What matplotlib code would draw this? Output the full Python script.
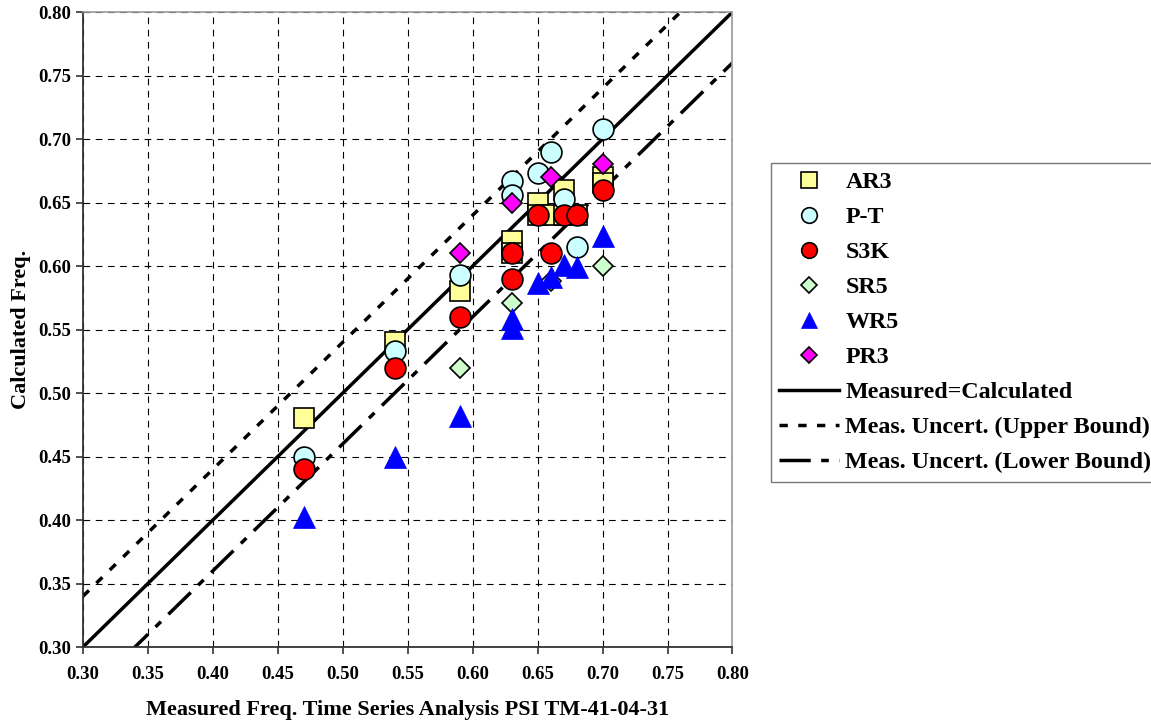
import numpy as np
import matplotlib
matplotlib.use("Agg")
import matplotlib.pyplot as plt

# series values
ar3_x = [0.47, 0.54, 0.59, 0.63, 0.63, 0.65, 0.65, 0.66, 0.67, 0.67, 0.68, 0.70, 0.70]
ar3_y = [0.48, 0.54, 0.58, 0.62, 0.61, 0.65, 0.64, 0.64, 0.66, 0.64, 0.64, 0.67, 0.665]

pt_x = [0.47, 0.54, 0.59, 0.63, 0.63, 0.65, 0.66, 0.67, 0.68, 0.70]
pt_y = [0.45, 0.533, 0.593, 0.667, 0.656, 0.673, 0.69, 0.653, 0.615, 0.708]

s3k_x = [0.47, 0.54, 0.59, 0.63, 0.63, 0.65, 0.66, 0.67, 0.68, 0.70]
s3k_y = [0.44, 0.52, 0.56, 0.61, 0.59, 0.64, 0.61, 0.64, 0.64, 0.66]

sr5_x = [0.59, 0.63, 0.66, 0.70]
sr5_y = [0.52, 0.571, 0.588, 0.60]

wr5_x = [0.47, 0.54, 0.59, 0.63, 0.63, 0.65, 0.66, 0.67, 0.68, 0.70]
wr5_y = [0.402, 0.45, 0.482, 0.558, 0.551, 0.587, 0.591, 0.601, 0.599, 0.624]

pr3_x = [0.59, 0.63, 0.66, 0.70]
pr3_y = [0.61, 0.65, 0.67, 0.68]

line_x = [0.30, 0.80]
uncert = 0.04

ticks = [0.30, 0.35, 0.40, 0.45, 0.50, 0.55, 0.60, 0.65, 0.70, 0.75, 0.80]

plt.rcParams["font.family"] = "Liberation Serif"
plt.rcParams["font.weight"] = "bold"

fig = plt.figure(figsize=(11.51, 7.23), dpi=100)
ax = fig.add_axes([0.0721, 0.1051, 0.5643, 0.8783])

ms = 15
ax.plot(ar3_x, ar3_y, "s", ms=ms, mfc="#FFFF99", mec="black", mew=1.2, label="AR3", zorder=3)
ax.plot(pt_x, pt_y, "o", ms=ms, mfc="#CCFFFF", mec="black", mew=1.2, label="P-T", zorder=3)
ax.plot(s3k_x, s3k_y, "o", ms=ms, mfc="#FF0000", mec="black", mew=1.2, label="S3K", zorder=3)
ax.plot(sr5_x, sr5_y, "D", ms=10.5, mfc="#CCFFCC", mec="black", mew=1.2, label="SR5", zorder=3)
ax.plot(wr5_x, wr5_y, "^", ms=16, mfc="#0000FF", mec="#0000FF", mew=0.5, label="WR5", zorder=3)
ax.plot(pr3_x, pr3_y, "D", ms=10.5, mfc="#FF00FF", mec="black", mew=1.2, label="PR3", zorder=3)

lx = np.array(line_x)
ax.plot(lx, lx, "-", color="black", lw=2.5, label="Measured=Calculated", zorder=2)
ax.plot(lx, lx + uncert, color="black", lw=2.5, dashes=(2.4, 3.0),
        label="Meas. Uncert. (Upper Bound)", zorder=2)
ax.plot(lx, lx - uncert, color="black", lw=2.5, dashes=(9, 3, 2.2, 3),
        label="Meas. Uncert. (Lower Bound)", zorder=2)

ax.set_xlim(0.30, 0.80)
ax.set_ylim(0.30, 0.80)
ax.set_xticks(ticks)
ax.set_yticks(ticks)
ax.set_xticklabels([f"{t:.2f}" for t in ticks], fontweight="bold")
ax.set_yticklabels([f"{t:.2f}" for t in ticks], fontweight="bold")
ax.tick_params(direction="out", length=5, width=1.2, labelsize=13.5, color="#333333")
ax.tick_params(axis="x", pad=9)
ax.grid(True, color="black", linestyle=(0, (6, 5)), lw=0.8)
ax.set_axisbelow(True)

for s in ["left", "bottom"]:
    ax.spines[s].set_color("#333333")
    ax.spines[s].set_linewidth(1.3)
for s in ["top", "right"]:
    ax.spines[s].set_color("#999999")
    ax.spines[s].set_linewidth(1.2)

ax.set_xlabel("Measured Freq. Time Series Analysis PSI TM-41-04-31", fontsize=16,
              fontweight="bold", labelpad=12)
ax.set_ylabel("Calculated Freq.", fontsize=16, fontweight="bold", labelpad=5)

leg = fig.legend(loc="upper left", bbox_to_anchor=(771 / 1151, 1 - 163 / 723),
                 prop={"size": 17.3, "weight": "bold"}, frameon=True, fancybox=False,
                 edgecolor="#555555", handlelength=2.5, handletextpad=0.25,
                 labelspacing=0.55, borderpad=0.35, borderaxespad=0, markerscale=0.75)
leg.get_frame().set_linewidth(1.0)

fig.savefig("out.png", dpi=100)
